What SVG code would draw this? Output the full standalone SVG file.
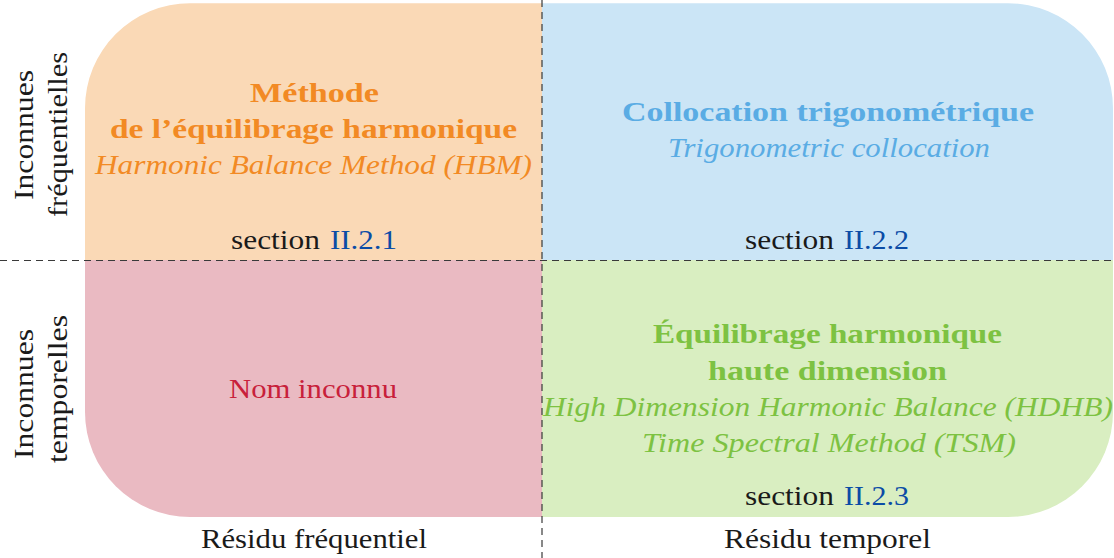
<svg xmlns="http://www.w3.org/2000/svg" width="1114" height="558" viewBox="0 0 1114 558">
<style>
text{font-family:"Liberation Serif",serif;font-size:27.5px;fill:#1a1a1a}
.b{font-weight:bold}
.i{font-style:italic}
.or{fill:#F28A24}
.bl{fill:#5AACE4}
.pk{fill:#C8203A}
.gr{fill:#7DC242}
.lk{fill:#0B4CA6}
.axis{stroke:#3a3a3a;stroke-width:1.2;stroke-dasharray:7 5;fill:none}
</style>
<g id="hbm">
<path d="M85,260 L85,108.3 A105,105 0 0 1 190,3.3 L542,3.3 L542,260 Z" fill="#FAD9B6"/>
<text class="b or" x="250" y="102" textLength="129" lengthAdjust="spacingAndGlyphs">Méthode</text>
<text class="b or" x="110" y="138" textLength="407" lengthAdjust="spacingAndGlyphs">de l’équilibrage harmonique</text>
<text class="i or" x="95" y="174" textLength="437" lengthAdjust="spacingAndGlyphs">Harmonic Balance Method (HBM)</text>
<text x="231" y="249" textLength="89" lengthAdjust="spacingAndGlyphs">section</text>
<text class="lk" x="330" y="249" textLength="67" lengthAdjust="spacingAndGlyphs">II.2.1</text>
</g>
<g id="collocation">
<path d="M542,3.3 L1008,3.3 A105,105 0 0 1 1113,108.3 L1113,260 L542,260 Z" fill="#CBE5F6"/>
<text class="b bl" x="622" y="121" textLength="412" lengthAdjust="spacingAndGlyphs">Collocation trigonométrique</text>
<text class="i bl" x="668" y="157" textLength="322" lengthAdjust="spacingAndGlyphs">Trigonometric collocation</text>
<text x="745" y="249" textLength="89" lengthAdjust="spacingAndGlyphs">section</text>
<text class="lk" x="844" y="249" textLength="65" lengthAdjust="spacingAndGlyphs">II.2.2</text>
</g>
<g id="inconnu">
<path d="M85,260 L542,260 L542,517 L190,517 A105,105 0 0 1 85,412 Z" fill="#EABAC2"/>
<text class="pk" x="229" y="398" textLength="168" lengthAdjust="spacingAndGlyphs">Nom inconnu</text>
</g>
<g id="hdhb">
<path d="M542,260 L1113,260 L1113,412 A105,105 0 0 1 1008,517 L542,517 Z" fill="#D9EEC1"/>
<text class="b gr" x="653" y="343" textLength="349" lengthAdjust="spacingAndGlyphs">Équilibrage harmonique</text>
<text class="b gr" x="708" y="380" textLength="239" lengthAdjust="spacingAndGlyphs">haute dimension</text>
<text class="i gr" x="543" y="416" textLength="570" lengthAdjust="spacingAndGlyphs">High Dimension Harmonic Balance (HDHB)</text>
<text class="i gr" x="642" y="452" textLength="374" lengthAdjust="spacingAndGlyphs">Time Spectral Method (TSM)</text>
<text x="745" y="505" textLength="89" lengthAdjust="spacingAndGlyphs">section</text>
<text class="lk" x="844" y="505" textLength="65" lengthAdjust="spacingAndGlyphs">II.2.3</text>
</g>
<g id="connectors">
<line class="axis" x1="0" y1="260.5" x2="1114" y2="260.5"/>
<line class="axis" x1="542" y1="0" x2="542" y2="558"/>
</g>
<g id="labels">
<text x="201" y="548" textLength="226" lengthAdjust="spacingAndGlyphs">Résidu fréquentiel</text>
<text x="724" y="548" textLength="207" lengthAdjust="spacingAndGlyphs">Résidu temporel</text>
<text transform="translate(33,200) rotate(-90)" textLength="130" lengthAdjust="spacingAndGlyphs">Inconnues</text>
<text transform="translate(67,217) rotate(-90)" textLength="165" lengthAdjust="spacingAndGlyphs">fréquentielles</text>
<text transform="translate(33,459) rotate(-90)" textLength="130" lengthAdjust="spacingAndGlyphs">Inconnues</text>
<text transform="translate(67,463) rotate(-90)" textLength="148" lengthAdjust="spacingAndGlyphs">temporelles</text>
</g>
</svg>
